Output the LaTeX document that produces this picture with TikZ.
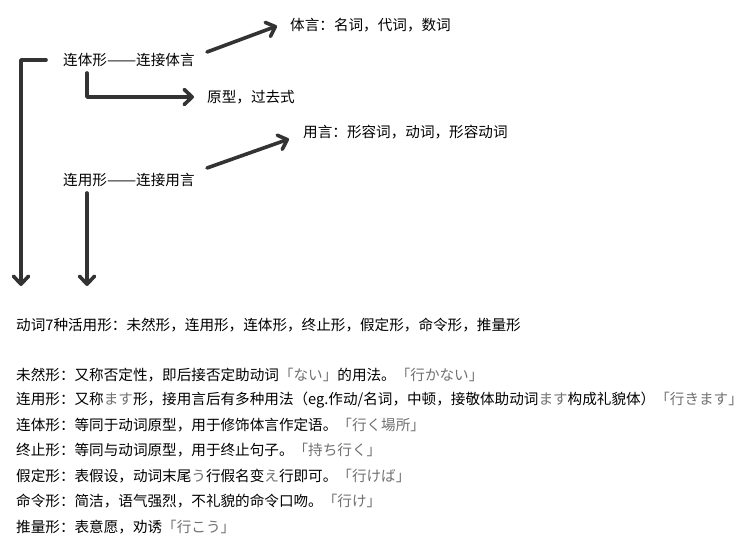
\documentclass[tikz,border=0pt]{standalone}
\usepackage{fontspec}
\usepackage{graphicx}
\usepackage{tikz}
\usetikzlibrary{arrows.meta}
\setmainfont{Noto Sans CJK SC}
\newfontfamily\jp{Noto Sans CJK JP}
\definecolor{ink}{HTML}{333333}
\definecolor{kana}{HTML}{707070}
\newcommand{\kn}[1]{{\jp\color{kana}#1}}
\newcommand{\dd}{\resizebox{2em}{\height}{——}}
\tikzset{
  txt/.style={anchor=west,inner sep=0pt,font=\fontsize{14.6}{16}\selectfont},
  arr/.style={draw=ink,line width=3.6pt,line cap=round,line join=round,
    -{Straight Barb[length=8pt,width=15pt,line width=3.6pt,round]}}
}
\begin{document}
\begin{tikzpicture}[x=1pt,y=-1pt]
  \useasboundingbox (0,0) rectangle (744,555);
  \node[txt](0) at (290,25){体言：名词，代词，数词};
  \node[txt](1) at (63,60){连体形\dd 连接体言};
  \node[txt](2) at (207,97){原型，过去式};
  \node[txt](3) at (303,132){用言：形容词，动词，形容动词};
  \node[txt](4) at (63,180){连用形\dd 连接用言};
  \coordinate(c0) at (207,52);
  \coordinate(c1) at (277,26);
  \coordinate(c2) at (87,73);
  \coordinate(c3) at (194,97);
  \coordinate(c4) at (207,168);
  \coordinate(c5) at (289,139);
  \coordinate(c6) at (87,193);
  \coordinate(c7) at (87,286);
  \coordinate(c8) at (46,60);
  \coordinate(c9) at (21,286);
  \draw[arr] (c0)--(c1);
  \draw[arr] (c2)|-(c3);
  \draw[arr] (c4)--(c5);
  \draw[arr] (c6)--(c7);
  \draw[arr] (c8)-|(c9);
  \node[txt](5) at (16,325){动词7种活用形：未然形，连用形，连体形，终止形，假定形，命令形，推量形};
  \node[txt](6) at (16,375){未然形：又称否定性，即后接否定助动词\kn{「ない」}的用法。\kn{「行かない」}};
  \node[txt](7) at (16,400){连用形：又称\kn{ます}形，接用言后有多种用法（eg.作动/名词，中顿，接敬体助动词\kn{ます}构成礼貌体）\kn{「行きます」}};
  \node[txt](8) at (16,425){连体形：等同于动词原型，用于修饰体言作定语。\kn{「行く場所」}};
  \node[txt](9) at (16,450){终止形：等同与动词原型，用于终止句子。\kn{「持ち行く」}};
  \node[txt](10) at (16,476){假定形：表假设，动词末尾\kn{う}行假名变\kn{え}行即可。\kn{「行けば」}};
  \node[txt](11) at (16,501){命令形：简洁，语气强烈，不礼貌的命令口吻。\kn{「行け」}};
  \node[txt](12) at (16,527){推量形：表意愿，劝诱\kn{「行こう」}};
\end{tikzpicture}
\end{document}
